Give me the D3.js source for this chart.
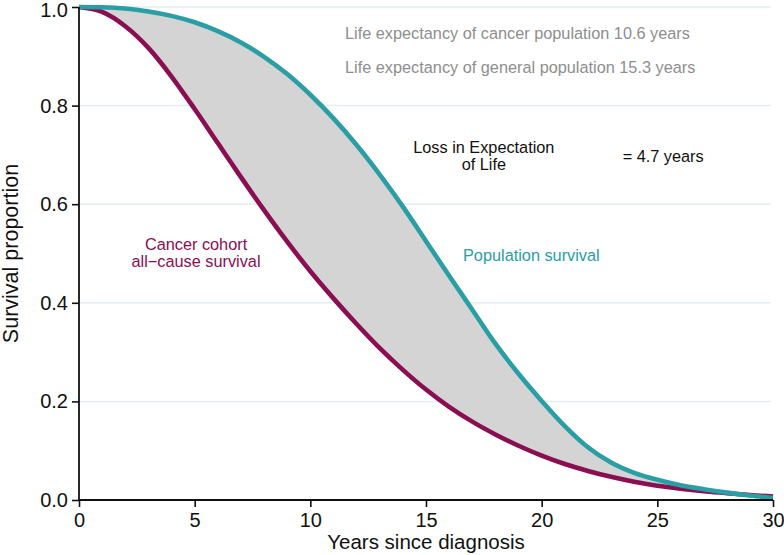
<!DOCTYPE html>
<html><head><meta charset="utf-8">
<script src="https://cdn.jsdelivr.net/npm/d3@7"></script>
<style>html,body{margin:0;padding:0;background:#fff;}svg{display:block;font-family:"Liberation Sans",Arial,Helvetica,sans-serif;}</style>
</head><body>
<svg id="c" width="784" height="555"></svg>
<script>
const years = d3.range(0, 31);
const cancerSurv = [1.0,0.990,0.961,0.917,0.859,0.793,0.724,0.655,0.588,0.524,0.464,0.409,0.357,0.308,0.264,0.224,0.189,0.159,0.133,0.110,0.090,0.073,0.059,0.047,0.037,0.029,0.023,0.018,0.014,0.010,0.007];
const popSurv = [1.0,0.9995,0.997,0.991,0.982,0.969,0.951,0.928,0.899,0.864,0.822,0.774,0.720,0.660,0.595,0.525,0.455,0.386,0.317,0.256,0.201,0.150,0.107,0.076,0.055,0.041,0.030,0.022,0.015,0.009,0.004];
const yTicks = [0.0,0.2,0.4,0.6,0.8,1.0];
const xTicks = [0,5,10,15,20,25,30];
const notes = [
  {t:"Life expectancy of cancer population 10.6 years", x:11.5, y:0.935, c:"#8e8e8e", a:"start"},
  {t:"Life expectancy of general population 15.3 years", x:11.5, y:0.866, c:"#8e8e8e", a:"start"},
  {t:"Loss in Expectation", x:17.5, y:0.703, c:"#111", a:"middle"},
  {t:"of Life", x:17.5, y:0.669, c:"#111", a:"middle"},
  {t:"= 4.7 years", x:23.5, y:0.685, c:"#111", a:"start"},
  {t:"Cancer cohort", x:5.06, y:0.507, c:"#8b0d52", a:"middle"},
  {t:"all\u2212cause survival", x:5.06, y:0.473, c:"#8b0d52", a:"middle"},
  {t:"Population survival", x:16.6, y:0.485, c:"#2a9ea5", a:"start"}
];

const svg = d3.select("#c");
const x = d3.scaleLinear().domain([0,30]).range([79,773]);
const y = d3.scaleLinear().domain([0,1]).range([500,7]);
const data = years.map((t,i)=>({t, c:cancerSurv[i], p:popSurv[i]}));

// gridlines
svg.append("g").selectAll("line").data(yTicks.filter(d=>d>0)).join("line")
  .attr("x1",x(0)).attr("x2",x(29.9)).attr("y1",d=>y(d)).attr("y2",d=>y(d))
  .attr("stroke","#e4eef0").attr("stroke-width",1.5);

// fill between
svg.append("path").datum(data)
  .attr("d", d3.area().x(d=>x(d.t)).y0(d=>y(d.c)).y1(d=>y(d.p)).curve(d3.curveMonotoneX))
  .attr("fill","#d4d4d4");

const lineC = d3.line().x(d=>x(d.t)).y(d=>y(d.c)).curve(d3.curveMonotoneX);
const lineP = d3.line().x(d=>x(d.t)).y(d=>y(d.p)).curve(d3.curveMonotoneX);
svg.append("path").datum(data).attr("d",lineC).attr("fill","none").attr("stroke","#8b0d52").attr("stroke-width",4.6);
svg.append("path").datum(data).attr("d",lineP).attr("fill","none").attr("stroke","#2a9ea5").attr("stroke-width",4.6);

// axes
const yAxis = d3.axisLeft(y).tickValues(yTicks).tickFormat(d3.format(".1f")).tickSize(7).tickPadding(4);
const xAxis = d3.axisBottom(x).tickValues(xTicks).tickFormat(d3.format("d")).tickSize(7).tickPadding(6);
const gy = svg.append("g").attr("transform",`translate(${x(0)},0)`).call(yAxis);
const gx = svg.append("g").attr("transform",`translate(0,${y(0)})`).call(xAxis);
[gy,gx].forEach(g=>{
  g.select(".domain").attr("stroke","#111").attr("stroke-width",1.8).attr("d", g===gy ? `M0,${y(0)}V${y(1)}` : `M${x(0)},0H${x(30)}`);
  g.selectAll(".tick line").attr("stroke","#111").attr("stroke-width",1.6);
  g.selectAll(".tick text").attr("fill","#111").style("font-size","20px").style("font-family",'"Liberation Sans",Arial,sans-serif');
});
gy.selectAll(".tick text").filter(d=>d===1).attr("dy","0.47em");

svg.append("text").attr("x",(x(0)+x(30))/2).attr("y",549).attr("text-anchor","middle")
  .style("font-size","20.5px").attr("fill","#111").text("Years since diagnosis");
svg.append("text").attr("transform",`translate(17.5,${y(0.5)}) rotate(-90)`).attr("text-anchor","middle")
  .style("font-size","21.5px").attr("fill","#111").text("Survival proportion");

svg.append("g").selectAll("text").data(notes).join("text")
  .attr("x",d=>x(d.x)).attr("y",d=>y(d.y)).attr("text-anchor",d=>d.a)
  .attr("fill",d=>d.c).style("font-size","16.3px").text(d=>d.t);
</script>
</body></html>
